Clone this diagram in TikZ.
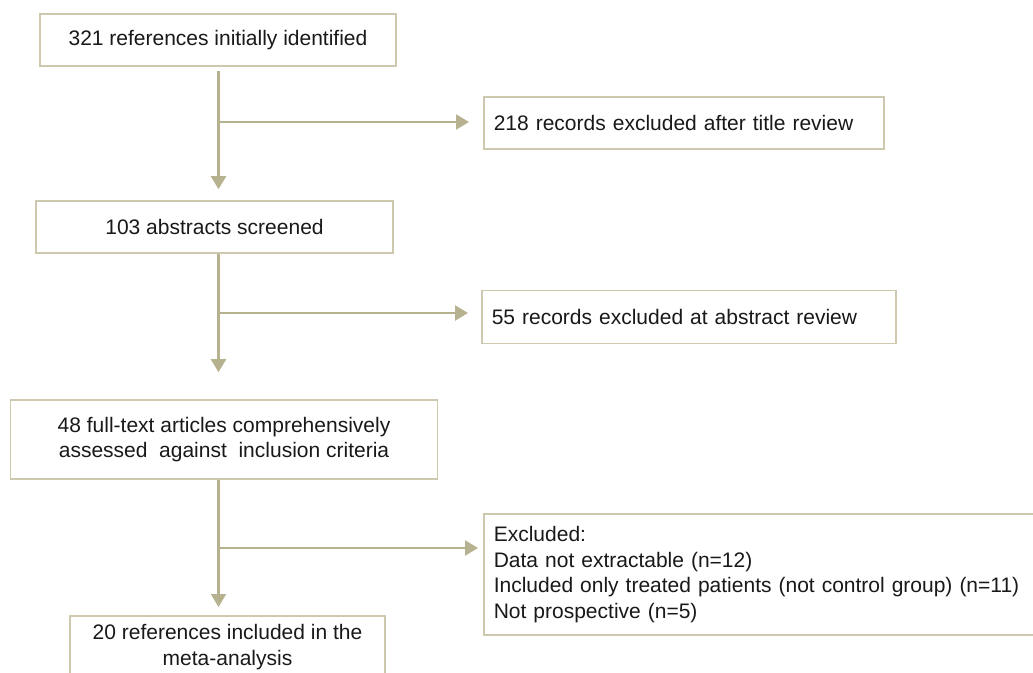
\documentclass[tikz,border=0pt]{standalone}
\usepackage{fontspec}
\setmainfont{Liberation Sans}
\usetikzlibrary{
    arrows.meta,
    positioning,
    calc
}
\definecolor{boxline}{RGB}{206,201,174}
\definecolor{flowline}{RGB}{182,177,142}
\definecolor{ink}{RGB}{25,25,25}
\tikzset {
    stage/.style = {draw = boxline, line width = 1.6pt, fill = white, text = ink,
        font = \fontsize{21}{25.5}\selectfont, align = center, inner sep = 0pt},
    excl/.style = {stage, align = left, anchor = west, inner xsep = 10pt},
    flow/.style = {draw = flowline, line width = 2.2pt,
        arrows = {-Triangle[length = 13pt, width = 15pt]}}
}
\begin{document}
\begin{tikzpicture}[x = 1pt, y = -1pt]
    \useasboundingbox (0, 0) rectangle (1033, 672);
    % main column
    \node (refs) [stage, minimum width = 356pt, minimum height = 52pt] at (218, 40)
        {321 references initially identified};
    \node (abst) [stage, minimum width = 357pt, minimum height = 52pt] at (214.5, 227)
        {103 abstracts screened};
    \node (full) [stage, minimum width = 427pt, minimum height = 79pt] at (224, 439.5)
        {48 full-text articles comprehensively\\assessed\ \ against\ \ inclusion criteria};
    \node (incl) [stage, anchor = north, minimum width = 315pt, inner ysep = 8.5pt] at (227.5, 615)
        {20 references included in the\\meta-analysis};
    % exclusions
    \node (ex1) [excl, minimum width = 400pt, minimum height = 52pt, text width = 380pt] at (483, 123)
        {218 records excluded after title review};
    \node (ex2) [excl, minimum width = 414pt, minimum height = 53pt, text width = 394pt] at (481, 317)
        {55 records excluded at abstract review};
    \node (ex3) [excl, minimum width = 553pt, minimum height = 121pt, text width = 533pt] at (483, 574.5)
        {Excluded:\\Data not extractable (n=12)\\Included only treated patients (not control group) (n=11)\\Not prospective (n=5)};
    % junctions on the trunk
    \coordinate (t) at (218.5, 0);
    \coordinate (j1) at (218.5, 122);
    \coordinate (j2) at (218.5, 313);
    \coordinate (j3) at (218.5, 548);
    \draw [flow, shorten <= 4pt, shorten >= 11pt] (refs.south -| t) -- (abst.north -| t);
    \draw [flow, shorten >= 27pt] (abst.south -| t) -- (full.north -| t);
    \draw [flow, shorten >= 8pt] (full.south -| t) -- (incl.north -| t);
    \draw [flow, shorten >= 14pt] (j1) -- (j1 -| ex1.west);
    \draw [flow, shorten >= 13pt] (j2) -- (j2 -| ex2.west);
    \draw [flow, shorten >= 5pt] (j3) -- (j3 -| ex3.west);
\end{tikzpicture}
\end{document}
